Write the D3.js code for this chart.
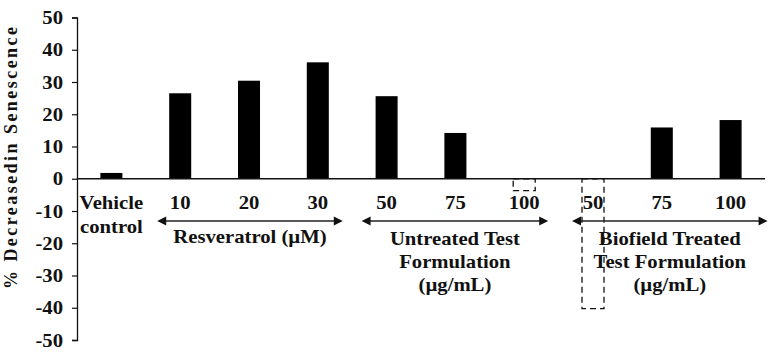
<!DOCTYPE html>
<html>
  <head>
    <meta charset="UTF-8">
    <title>Senescence bar chart</title>
    <script src="https://d3js.org/d3.v7.min.js"></script>
    <style>
      body { margin: 0; background: #fff; }
      svg text { font-family: "Liberation Serif", "Times New Roman", serif; font-weight: bold; fill: #111; }
    </style>
  </head>
  <body>
    <svg id="chart" width="774" height="352"></svg>
    <script>
      // Data
      const categories = ["Vehicle\ncontrol", "10", "20", "30", "50", "75", "100", "50", "75", "100"];
      const values = [1.8, 26.5, 30.4, 36.1, 25.6, 14.2, -3.7, -40.3, 15.9, 18.2];
      const dashed = [false, false, false, false, false, false, true, true, false, false];
      const yTicks = [50, 40, 30, 20, 10, 0, -10, -20, -30, -40, -50];
      const groupNames = [["Resveratrol (\u00b5M)"], ["Untreated Test", "Formulation", "(\u00b5g/mL)"], ["Biofield Treated", "Test Formulation", "(\u00b5g/mL)"]];
      const groupFirst = [1, 4, 7];
      const groupLast = [3, 6, 9];

      const svg = d3.select("#chart");
      const plotLeft = 77, plotRight = 765, plotTop = 17.5, plotBottom = 340;
      const stretch = 1.15; // the text in the picture is a bit wide

      const x = d3.scaleBand()
        .domain(d3.range(categories.length))
        .range([plotLeft, plotRight])
        .paddingInner(0.68)
        .paddingOuter(0.34);

      const y = d3.scaleLinear()
        .domain([-50, 50])
        .range([plotBottom, plotTop]);

      // y axis
      const yAxis = svg.append("g")
        .attr("transform", `translate(${plotLeft},0)`)
        .call(d3.axisLeft(y).tickValues(yTicks).tickSize(5).tickPadding(8).tickFormat(d => String(d)));
      yAxis.select(".domain").attr("stroke", "#111").attr("stroke-width", 1.3);
      yAxis.selectAll(".tick line").attr("stroke", "#111").attr("stroke-width", 1.2);
      yAxis.selectAll(".tick text")
        .attr("font-size", 18)
        .attr("x", null).attr("dy", null)
        .attr("transform", `translate(-14,6) scale(${stretch},1)`)
        .style("font-family", "Liberation Serif").style("font-weight", "bold").attr("fill", "#111");

      // y label
      svg.append("text")
        .attr("transform", "translate(17,158) rotate(-90)")
        .attr("text-anchor", "middle")
        .attr("font-size", 18)
        .attr("textLength", 262)
        .attr("lengthAdjust", "spacing")
        .text("% Decreasedin Senescence");

      // bars
      svg.append("g").selectAll("rect")
        .data(values)
        .join("rect")
        .attr("x", (d, i) => x(i))
        .attr("y", d => y(Math.max(0, d)))
        .attr("width", x.bandwidth())
        .attr("height", d => Math.abs(y(d) - y(0)))
        .attr("fill", (d, i) => dashed[i] ? "none" : "#000")
        .attr("stroke", (d, i) => dashed[i] ? "#111" : "none")
        .attr("stroke-width", 1.3)
        .attr("stroke-dasharray", (d, i) => dashed[i] ? "6,4" : null);

      // zero line
      svg.append("line")
        .attr("x1", plotLeft).attr("x2", plotRight)
        .attr("y1", y(0)).attr("y2", y(0))
        .attr("stroke", "#111").attr("stroke-width", 1.3);

      // category labels
      const catLabels = svg.append("g").selectAll("text")
        .data(categories)
        .join("text")
        .attr("text-anchor", "middle")
        .attr("font-size", 18)
        .attr("transform", (d, i) => `translate(${x(i) + x.bandwidth() / 2},209) scale(${stretch},1)`);
      catLabels.selectAll("tspan")
        .data(d => d.split("\n"))
        .join("tspan")
        .attr("x", 0)
        .attr("dy", (d, i) => i ? 24 : 0)
        .text(d => d);

      // group arrows and names
      const arrowY = 221;
      const padStart = [23, 25, 21];
      const padEnd = [25, 24, 37];
      const half = x.bandwidth() / 2;
      groupNames.forEach((names, g) => {
        const x1 = x(groupFirst[g]) + half - padStart[g];
        const x2 = x(groupLast[g]) + half + padEnd[g];
        svg.append("line")
          .attr("x1", x1 + 6).attr("x2", x2 - 6)
          .attr("y1", arrowY).attr("y2", arrowY)
          .attr("stroke", "#222").attr("stroke-width", 1.6);
        svg.append("path")
          .attr("d", `M${x1},${arrowY} l9,-4.5 v9 Z M${x2},${arrowY} l-9,-4.5 v9 Z`)
          .attr("fill", "#111");
        const t = svg.append("text")
          .attr("text-anchor", "middle")
          .attr("font-size", 18)
          .attr("transform", `translate(${(x1 + x2) / 2},${names.length > 1 ? 245 : 243}) scale(${stretch},1)`);
        t.selectAll("tspan")
          .data(names)
          .join("tspan")
          .attr("x", 0)
          .attr("dy", (d, i) => i ? 23 : 0)
          .text(d => d);
      });
    </script>
  </body>
</html>
